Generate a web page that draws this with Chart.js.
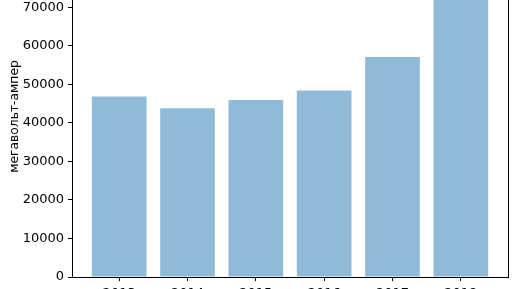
<!DOCTYPE html>
<html>
<head>
<meta charset="utf-8">
<script src="https://cdn.jsdelivr.net/npm/chart.js@4/dist/chart.umd.min.js"></script>
<style>
html,body{margin:0;padding:0;background:#fff;overflow:hidden;width:516px;height:289px;}
#wrap{position:absolute;left:0;top:-60px;width:516px;height:361px;}
</style>
</head>
<body>
<div id="wrap"><canvas id="c" width="516" height="361"></canvas></div>
<script>
const categories = ["2013", "2014", "2015", "2016", "2017", "2018"];
const values = [46800, 43800, 45900, 48400, 57100, 79300];
const yTicks = [0, 10000, 20000, 30000, 40000, 50000, 60000, 70000, 80000];
const yLabel = "мегавольт-ампер";

const spines = {
  id: 'spines',
  afterDraw(chart) {
    const {ctx, chartArea: a} = chart;
    ctx.save();
    ctx.strokeStyle = '#000';
    ctx.lineWidth = 1;
    ctx.beginPath();
    ctx.moveTo(a.right + 0.5, a.bottom);
    ctx.lineTo(a.right + 0.5, a.top);
    ctx.lineTo(a.left, a.top + 0.5);
    ctx.stroke();
    ctx.restore();
  }
};

Chart.defaults.font.family = "'DejaVu Sans', sans-serif";
Chart.defaults.color = '#000';

new Chart(document.getElementById('c'), {
  type: 'bar',
  data: {
    datasets: [{
      data: values.map((v, i) => ({x: i, y: v})),
      backgroundColor: 'rgba(31,119,180,0.5)',
      borderWidth: 0,
      barPercentage: 0.8,
      categoryPercentage: 1.0
    }]
  },
  options: {
    responsive: false,
    animation: false,
    devicePixelRatio: 1,
    layout: {padding: {top: 16, right: 8, left: 0, bottom: 0}},
    plugins: {legend: {display: false}, tooltip: {enabled: false}},
    scales: {
      x: {
        type: 'linear',
        min: -0.69,
        max: categories.length - 1 + 0.69,
        offset: false,
        afterBuildTicks: s => { s.ticks = categories.map((c, i) => ({value: i})); },
        afterFit: s => { s.height = 24; },
        ticks: {
          autoSkip: false,
          maxRotation: 0,
          padding: 4.5,
          font: {size: 13},
          callback: v => categories[v]
        },
        grid: {display: true, offset: false, drawOnChartArea: false, drawTicks: true, tickLength: 4, color: '#000'},
        border: {display: true, color: '#000', width: 1}
      },
      y: {
        min: 0,
        max: 83270,
        afterBuildTicks: s => { s.ticks = yTicks.map(v => ({value: v})); },
        afterFit: s => { s.width = 72; },
        ticks: {padding: 4, font: {size: 13}, callback: v => String(v)},
        grid: {display: true, drawOnChartArea: false, drawTicks: true, tickLength: 4, color: '#000'},
        border: {display: true, color: '#000', width: 1},
        title: {display: true, text: yLabel, font: {size: 12.3}, padding: {top: 7, bottom: 0}}
      }
    }
  },
  plugins: [spines]
});
</script>
</body>
</html>
